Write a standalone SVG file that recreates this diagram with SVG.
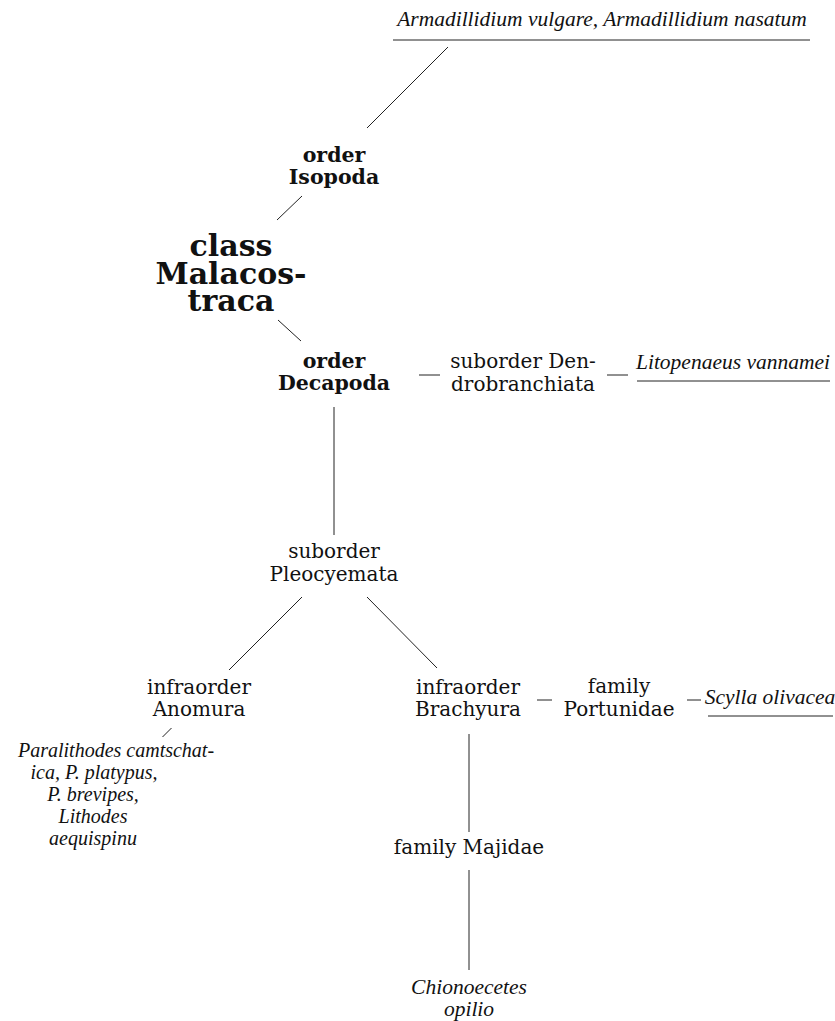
<svg xmlns="http://www.w3.org/2000/svg" width="835" height="1021" viewBox="0 0 835 1021">
<style>
text{fill:#111;text-anchor:middle}
.r{font-family:"DejaVu Serif",serif;font-size:20px}
.b{font-family:"DejaVu Serif",serif;font-size:20.5px;font-weight:bold}
.big{font-family:"DejaVu Serif",serif;font-size:30px;font-weight:bold}
.i{font-family:"Liberation Serif",serif;font-size:21.5px;font-style:italic}
.s{font-family:"Liberation Serif",serif;font-size:20px;font-style:italic}
line{stroke:#222;stroke-width:1}
</style>
<rect width="835" height="1021" fill="#fff"/>
<g id="connectors">
<line x1="448" y1="47" x2="367" y2="128"/>
<line x1="302" y1="196" x2="277" y2="220"/>
<line x1="278" y1="320" x2="301" y2="341"/>
<line x1="419" y1="375" x2="440" y2="375"/>
<line x1="607" y1="375" x2="628" y2="375"/>
<line x1="334" y1="407" x2="334" y2="535"/>
<line x1="302" y1="597" x2="229" y2="670"/>
<line x1="367" y1="597" x2="437" y2="668"/>
<line x1="171.5" y1="728" x2="162.5" y2="737"/>
<line x1="537" y1="700" x2="552" y2="700"/>
<line x1="687" y1="700" x2="701" y2="700"/>
<line x1="469" y1="734" x2="469" y2="832"/>
<line x1="469" y1="870" x2="469" y2="970"/>
</g>
<g id="n_armadillidium">
<text class="i" x="602" y="26">Armadillidium vulgare, Armadillidium nasatum</text>
<line x1="393" y1="40" x2="810" y2="40"/>
</g>
<g id="n_isopoda">
<text class="b" x="334" y="162">order</text>
<text class="b" x="334" y="184">Isopoda</text>
</g>
<g id="n_malacostraca">
<text class="big" x="231" y="256">class</text>
<text class="big" x="231" y="284">Malacos-</text>
<text class="big" x="231" y="311">traca</text>
</g>
<g id="n_decapoda">
<text class="b" x="334" y="368">order</text>
<text class="b" x="334" y="390">Decapoda</text>
</g>
<g id="n_dendrobranchiata">
<text class="r" x="523" y="368">suborder Den-</text>
<text class="r" x="523" y="391">drobranchiata</text>
</g>
<g id="n_litopenaeus">
<text class="i" x="733" y="369">Litopenaeus vannamei</text>
<line x1="637" y1="381" x2="830" y2="381"/>
</g>
<g id="n_pleocyemata">
<text class="r" x="334" y="558">suborder</text>
<text class="r" x="334" y="581">Pleocyemata</text>
</g>
<g id="n_anomura">
<text class="r" x="199" y="694">infraorder</text>
<text class="r" x="199" y="716">Anomura</text>
</g>
<g id="n_paralithodes">
<text class="s" x="18" y="757" style="text-anchor:start">Paralithodes camtschat-</text>
<text class="s" x="94" y="779">ica, P. platypus,</text>
<text class="s" x="93" y="801">P. brevipes,</text>
<text class="s" x="93" y="823">Lithodes</text>
<text class="s" x="93" y="845">aequispinu</text>
</g>
<g id="n_brachyura">
<text class="r" x="468" y="694">infraorder</text>
<text class="r" x="468" y="716">Brachyura</text>
</g>
<g id="n_portunidae">
<text class="r" x="619" y="693">family</text>
<text class="r" x="619" y="716">Portunidae</text>
</g>
<g id="n_scylla">
<text class="i" x="770" y="704">Scylla olivacea</text>
<line x1="708" y1="716" x2="833" y2="716"/>
</g>
<g id="n_majidae">
<text class="r" x="469" y="854">family Majidae</text>
</g>
<g id="n_chionoecetes">
<text class="i" x="469" y="994">Chionoecetes</text>
<text class="i" x="469" y="1016">opilio</text>
</g>
</svg>
